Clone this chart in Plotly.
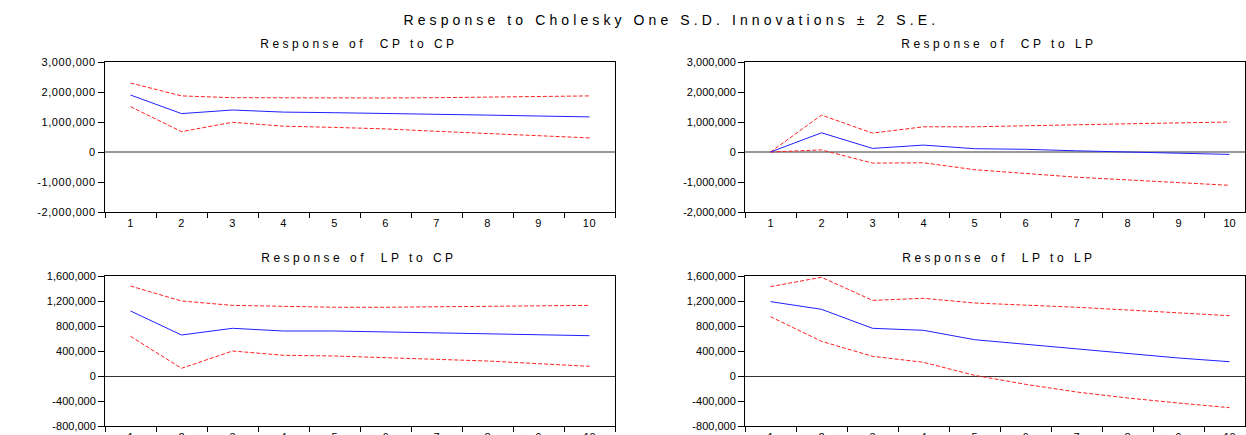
import plotly.graph_objects as go

periods = list(range(1, 11))

cp_cp = [1.90e6, 1.28e6, 1.40e6, 1.33e6, 1.31e6, 1.29e6, 1.26e6, 1.23e6, 1.20e6, 1.17e6]
cp_cp_hi = [2.30e6, 1.87e6, 1.81e6, 1.80e6, 1.79e6, 1.80e6, 1.81e6, 1.83e6, 1.84e6, 1.87e6]
cp_cp_lo = [1.51e6, 0.68e6, 0.99e6, 0.86e6, 0.82e6, 0.77e6, 0.69e6, 0.62e6, 0.56e6, 0.47e6]

cp_lp = [0.0, 0.64e6, 0.12e6, 0.23e6, 0.11e6, 0.09e6, 0.04e6, 0.0, -0.03e6, -0.08e6]
cp_lp_hi = [0.0, 1.23e6, 0.63e6, 0.84e6, 0.84e6, 0.88e6, 0.91e6, 0.94e6, 0.97e6, 1.00e6]
cp_lp_lo = [0.0, 0.07e6, -0.37e6, -0.36e6, -0.59e6, -0.72e6, -0.84e6, -0.93e6, -1.02e6, -1.11e6]

lp_cp = [1040e3, 656e3, 763e3, 720e3, 720e3, 704e3, 688e3, 672e3, 661e3, 645e3]
lp_cp_hi = [1440e3, 1200e3, 1130e3, 1110e3, 1100e3, 1100e3, 1110e3, 1115e3, 1125e3, 1130e3]
lp_cp_lo = [635e3, 123e3, 400e3, 331e3, 320e3, 293e3, 267e3, 240e3, 197e3, 155e3]

lp_lp = [1190e3, 1067e3, 763e3, 731e3, 581e3, 507e3, 427e3, 357e3, 288e3, 229e3]
lp_lp_hi = [1430e3, 1580e3, 1210e3, 1243e3, 1168e3, 1140e3, 1100e3, 1056e3, 1013e3, 965e3]
lp_lp_lo = [949e3, 555e3, 315e3, 219e3, 11e3, -133e3, -256e3, -352e3, -432e3, -507e3]

top_ticks = [3e6, 2e6, 1e6, 0, -1e6, -2e6]
top_ticktext = ["3,000,000", "2,000,000", "1,000,000", "0", "-1,000,000", "-2,000,000"]
bot_ticks = [1.6e6, 1.2e6, 0.8e6, 0.4e6, 0, -0.4e6, -0.8e6]
bot_ticktext = ["1,600,000", "1,200,000", "800,000", "400,000", "0", "-400,000", "-800,000"]

main_title = "Response to Cholesky One S.D. Innovations \u00b1 2 S.E."
panel_titles = ["Response of\u00a0 CP to CP", "Response of\u00a0 CP to LP",
                "Response of\u00a0 LP to CP", "Response of\u00a0 LP to LP"]

W, H = 1246, 435
FONT = "Liberation Sans, Arial, sans-serif"

panels = [
    (cp_cp, cp_cp_hi, cp_cp_lo, (105, 615), (62, 212), top_ticks, top_ticktext, (-2e6, 3e6), True),
    (cp_lp, cp_lp_hi, cp_lp_lo, (745, 1245), (62, 212), top_ticks, top_ticktext, (-2e6, 3e6), True),
    (lp_cp, lp_cp_hi, lp_cp_lo, (105, 615), (276, 426), bot_ticks, bot_ticktext, (-0.8e6, 1.6e6), False),
    (lp_lp, lp_lp_hi, lp_lp_lo, (745, 1245), (276, 426), bot_ticks, bot_ticktext, (-0.8e6, 1.6e6), False),
]

fig = go.Figure()
annotations = [dict(text=main_title, x=671 / W, y=1 - 20 / H, xref="paper", yref="paper",
                    showarrow=False, xanchor="center", yanchor="middle",
                    font=dict(family=FONT, size=14, color="black"))]

step = 51.0
for i, (mid, hi, lo, (x0, x1), (y0, y1), tv, tt, yr, grayzero) in enumerate(panels):
    n = i + 1
    xa = "x" if n == 1 else f"x{n}"
    ya = "y" if n == 1 else f"y{n}"
    xkey = "xaxis" if n == 1 else f"xaxis{n}"
    ykey = "yaxis" if n == 1 else f"yaxis{n}"
    xr_end = 0.5 + (x1 - x0) / step
    for series, color, dash in ((hi, "#ff2020", "4px,2px"), (lo, "#ff2020", "4px,2px"), (mid, "#2020ff", "solid")):
        fig.add_trace(go.Scatter(x=periods, y=series, mode="lines", xaxis=xa, yaxis=ya,
                                 line=dict(color=color, width=1, dash=dash),
                                 showlegend=False, hoverinfo="skip"))
    fig.update_layout({
        xkey: dict(domain=[x0 / W, x1 / W], range=[0.5, xr_end], anchor=ya, automargin=False,
                   tickmode="array", tickvals=periods, ticktext=[str(p) for p in periods],
                   ticks="", showgrid=False, zeroline=False, ticklabelstandoff=1,
                   showline=True, mirror=True, linecolor="black", linewidth=1,
                   tickfont=dict(family=FONT, size=11, color="black"),
                   minor=dict(tickmode="linear", tick0=0.5, dtick=1, ticks="outside",
                              ticklen=5, tickcolor="black", tickwidth=1, showgrid=False),
                   fixedrange=True),
        ykey: dict(domain=[1 - y1 / H, 1 - y0 / H], range=list(yr), anchor=xa, automargin=False,
                   tickmode="array", tickvals=tv, ticktext=tt,
                   ticks="outside", ticklen=6, tickcolor="black", tickwidth=1,
                   showgrid=False, zeroline=True,
                   zerolinecolor="#9a9a9a" if grayzero else "#333333",
                   zerolinewidth=2 if grayzero else 1,
                   showline=True, mirror=True, linecolor="black", linewidth=1,
                   tickfont=dict(family=FONT, size=11, color="black"),
                   fixedrange=True),
    })
    cx = (x0 + x0 + 508) / 2
    annotations.append(dict(text=panel_titles[i], x=cx / W,
                            y=1 - (y0 - 18) / H, xref="paper", yref="paper", showarrow=False,
                            xanchor="center", yanchor="middle",
                            font=dict(family=FONT, size=12, color="black")))

fig.update_layout(width=W, height=H, margin=dict(l=0, r=0, t=0, b=0, autoexpand=False),
                  paper_bgcolor="white", plot_bgcolor="white",
                  annotations=annotations)

post = """
(function(){
  var de = document.documentElement, b = document.body;
  [de, b].forEach(function(el){
    el.style.margin = '0'; el.style.padding = '0';
    el.style.overflow = 'hidden';
  });
  var gd = document.getElementById('{plot_id}');
  gd.querySelectorAll('.annotation-text').forEach(function(t){
    t.style.letterSpacing = (t.textContent.indexOf('Cholesky') >= 0) ? '4.1px' : '3.5px';
  });
  gd.querySelectorAll('.ytick text, .xtick text').forEach(function(t){
    t.style.letterSpacing = '0.6px';
  });
})();
"""

fig.write_html("out.html", config={"displayModeBar": False}, post_script=post)
